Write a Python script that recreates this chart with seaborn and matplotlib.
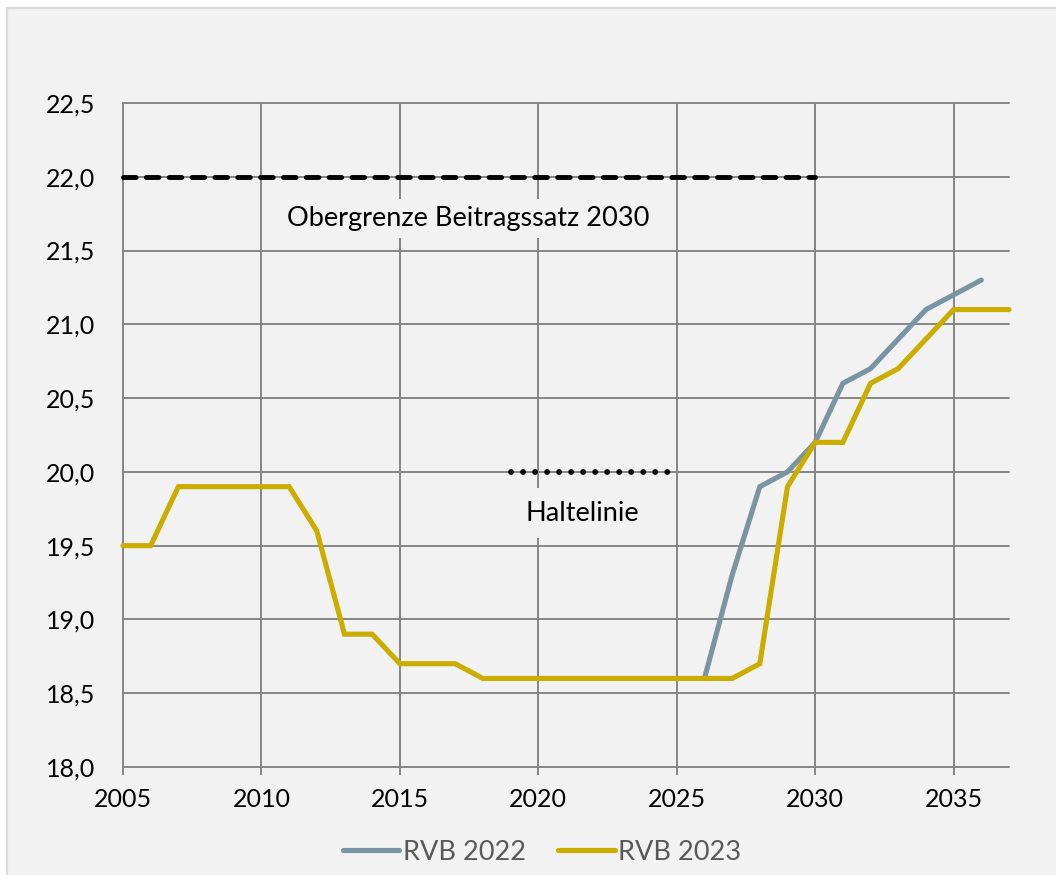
import numpy as np
import pandas as pd
import matplotlib
matplotlib.use("Agg")
import matplotlib.pyplot as plt
import seaborn as sns
from matplotlib.patches import Rectangle

# ---- data ----
years = list(range(2005, 2038))
rvb2023 = [19.5, 19.5, 19.9, 19.9, 19.9, 19.9, 19.9, 19.6, 18.9, 18.9,
           18.7, 18.7, 18.7, 18.6, 18.6, 18.6, 18.6, 18.6, 18.6, 18.6,
           18.6, 18.6, 18.6, 18.7, 19.9, 20.2, 20.2, 20.6, 20.7, 20.9,
           21.1, 21.1, 21.1]
rvb2022_years = list(range(2026, 2037))
rvb2022 = [18.6, 19.3, 19.9, 20.0, 20.2, 20.6, 20.7, 20.9, 21.1, 21.2, 21.3]

cap_years = [2005, 2030]
cap_values = [22.0, 22.0]
hold_years = [2019, 2025]
hold_values = [20.0, 20.0]

cap_label = "Obergrenze Beitragssatz 2030"
hold_label = "Haltelinie"
series_names = ["RVB 2022", "RVB 2023"]
xticks = [2005, 2010, 2015, 2020, 2025, 2030, 2035]
yticks = [18.0, 18.5, 19.0, 19.5, 20.0, 20.5, 21.0, 21.5, 22.0, 22.5]

c2022 = "#7895a1"
c2023 = "#cbad00"
bg = "#f2f2f2"
grid_c = "#868686"

sns.set_theme(style="white")
plt.rcParams["font.family"] = ["Lato", "DejaVu Sans"]

fig = plt.figure(figsize=(10.56, 8.75), dpi=100, facecolor="white")
fig.patches.append(Rectangle((7/1056, -0.1), 1.2, 1 - 8/875 + 0.1,
                             transform=fig.transFigure, facecolor=bg,
                             edgecolor="#d9d9d9", linewidth=1.6, zorder=-10))
ax = fig.add_axes([123/1056, 1 - 767/875, (1009 - 123)/1056, (767 - 103)/875])
ax.set_facecolor(bg)
ax.patch.set_alpha(0)

df22 = pd.DataFrame({"Jahr": rvb2022_years, "Wert": rvb2022})
df23 = pd.DataFrame({"Jahr": years, "Wert": rvb2023})

sns.lineplot(data=df22, x="Jahr", y="Wert", ax=ax, color=c2022, linewidth=3.7,
             label=series_names[0], zorder=5)
sns.lineplot(data=df23, x="Jahr", y="Wert", ax=ax, color=c2023, linewidth=3.7,
             label=series_names[1], zorder=6)
for ln in ax.get_lines():
    ln.set_solid_capstyle("round")
    ln.set_solid_joinstyle("miter")
    ln.set_clip_on(False)

ax.plot(cap_years, cap_values, color="black", linewidth=3.5,
        dashes=(2.6, 2.1), dash_capstyle="round", zorder=4, clip_on=False)
ax.plot(hold_years, hold_values, color="black", linewidth=4.2,
        dashes=(0.01, 2.05), dash_capstyle="round", zorder=4, clip_on=False)

box = dict(facecolor=bg, edgecolor="none", pad=5)
ax.text(2017.45, 21.72, cap_label, ha="center", va="center", fontsize=19.5,
        color="black", bbox=box, zorder=3)
ax.text(2021.6, 19.72, hold_label, ha="center", va="center", fontsize=19.5,
        color="black", bbox=dict(facecolor=bg, edgecolor="none", pad=9), zorder=3)

ax.set_xlim(2005, 2037)
ax.set_ylim(18.0, 22.5)
ax.set_xticks(xticks)
ax.set_yticks(yticks)
ax.set_yticklabels([f"{v:.1f}".replace(".", ",") for v in yticks])
ax.set_xlabel("")
ax.set_ylabel("")
for s in ax.spines.values():
    s.set_visible(False)
ax.grid(True, color=grid_c, linewidth=1.4)
for gl in ax.get_xgridlines() + ax.get_ygridlines():
    gl.set_clip_on(False)
ax.tick_params(axis="x", length=6, width=1.4, color=grid_c, pad=9,
               labelsize=18, labelcolor="black", bottom=True)
ax.tick_params(axis="y", length=0, pad=20, labelsize=18, labelcolor="black", left=True)

handles, labels = ax.get_legend_handles_labels()
ax.legend_.remove()
leg = fig.legend(handles[:2], labels[:2], loc="center",
                 bbox_to_anchor=(542/1056, 1 - 852/875), ncol=2, frameon=False,
                 fontsize=19.5, handlelength=2.1, handletextpad=0.12,
                 columnspacing=1.2, labelcolor="#595959")

fig.savefig("out.png", dpi=100, facecolor="white")
